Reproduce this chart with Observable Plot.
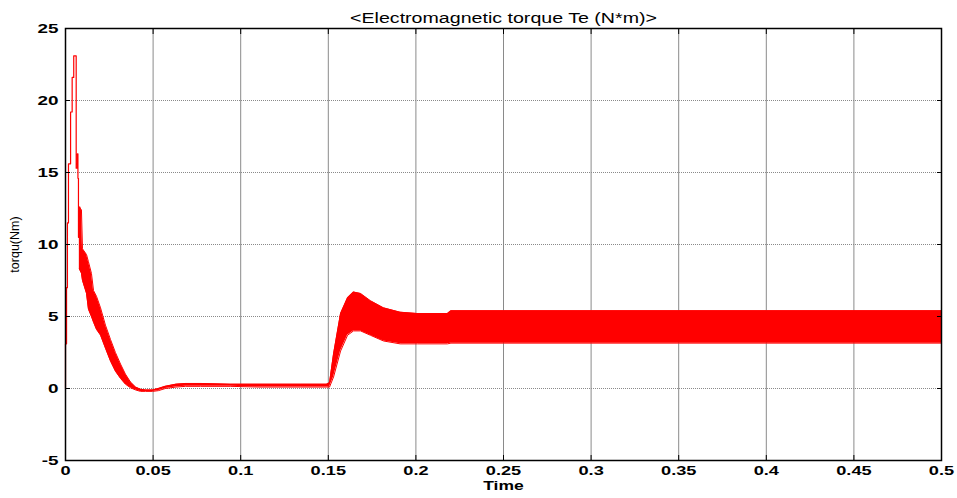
<!DOCTYPE html>
<html>
<head>
<meta charset="utf-8">
<script src="https://cdn.jsdelivr.net/npm/d3@7"></script>
<script src="https://cdn.jsdelivr.net/npm/@observablehq/plot@0.6"></script>
<style>
  html, body { margin: 0; padding: 0; background: #fff; }
  #chart svg { display: block; }
</style>
</head>
<body>
<div id="chart"></div>
<script>
const titleText = "<Electromagnetic torque Te (N*m)>";
const xLabel = "Time";
const yLabel = "torqu(Nm)";
const xTicks = [0, 0.05, 0.1, 0.15, 0.2, 0.25, 0.3, 0.35, 0.4, 0.45, 0.5];
const yTicks = [-5, 0, 5, 10, 15, 20, 25];

// start-up transient of Te, sampled steps (time in s, torque in N·m)
const startT  = [0, 0, 0.0006, 0.0011, 0.0017, 0.0029, 0.0038, 0.0047, 0.0061, 0.0068, 0.0071, 0.0074, 0.0079, 0.0082];
const startTe = [0, 3.1, 7.0, 11.5, 15.6, 19.2, 21.6, 23.1, 15.3, 16.3, 14.6, 10.5, 12.6, 12.4];

// ripple envelope of Te (upper / lower bound of the oscillation)
const bandT  = [0.0079, 0.0091, 0.0097, 0.0120, 0.0131, 0.0148, 0.0160, 0.0177, 0.0200, 0.0228, 0.0257, 0.0285, 0.0314, 0.0342, 0.0371, 0.0400, 0.0428, 0.0457, 0.0497, 0.0530, 0.0570, 0.0630, 0.0685, 0.0770, 0.0940, 0.1110, 0.1340, 0.1490, 0.1507, 0.1530, 0.1570, 0.1610, 0.1644, 0.1684, 0.1740, 0.1815, 0.1910, 0.2010, 0.2180, 0.2200, 0.2500, 0.3000, 0.3500, 0.4000, 0.4500, 0.5000];
const bandHi = [12.6, 12.4, 9.7, 9.3, 8.8, 8.0, 6.8, 6.4, 5.6, 4.4, 3.4, 2.5, 1.7, 1.0, 0.45, 0.1, -0.05, -0.1, -0.1, 0.0, 0.15, 0.3, 0.35, 0.35, 0.3, 0.3, 0.3, 0.3, 0.4, 2.4, 5.2, 6.3, 6.7, 6.6, 6.1, 5.6, 5.3, 5.2, 5.2, 5.4, 5.4, 5.4, 5.4, 5.4, 5.4, 5.4];
const bandLo = [8.3, 8.0, 7.5, 6.6, 5.5, 5.0, 4.6, 4.1, 3.7, 2.8, 1.9, 1.2, 0.7, 0.3, 0.05, -0.1, -0.2, -0.2, -0.2, -0.15, 0.0, 0.1, 0.15, 0.15, 0.15, 0.1, 0.1, 0.1, 0.1, 0.8, 2.6, 3.7, 4.0, 4.0, 3.7, 3.3, 3.1, 3.1, 3.1, 3.15, 3.15, 3.15, 3.15, 3.15, 3.15, 3.15];

const startup = startT.map((t, i) => ({t, te: startTe[i]}));
const band = bandT.map((t, i) => ({t, hi: bandHi[i], lo: bandLo[i]}));

const red = "#ff0000";
const font = "'Liberation Sans', Arial, sans-serif";

const chart = Plot.plot({
  width: 957,
  height: 498,
  marginLeft: 65,
  marginRight: 16,
  marginTop: 28,
  marginBottom: 38,
  style: {fontFamily: font, background: "#fff", color: "#000"},
  x: {domain: [0, 0.5]},
  y: {domain: [-5, 25]},
  marks: [
    Plot.gridX(xTicks, {stroke: "#8a8a8a", strokeOpacity: 1, strokeWidth: 1}),
    Plot.gridY(yTicks, {stroke: "#8a8a8a", strokeOpacity: 1, strokeDasharray: "1,1"}),
    Plot.areaY(band, {x: "t", y1: "lo", y2: "hi", fill: red}),
    Plot.line(band, {x: "t", y: "hi", stroke: red, strokeWidth: 1}),
    Plot.line(band, {x: "t", y: "lo", stroke: red, strokeWidth: 1}),
    Plot.line(startup, {x: "t", y: "te", stroke: red, strokeWidth: 1.2, curve: "step-after"}),
    Plot.frame({stroke: "#000", strokeWidth: 1.5}),
    Plot.axisX(xTicks, {anchor: "bottom", tickSize: -5, tickPadding: 10, tickFormat: d => String(d),
      fontWeight: "bold", fontSize: 13, label: null}),
    Plot.axisX(xTicks, {anchor: "top", tickSize: -5, tickFormat: () => "", label: null}),
    Plot.axisY(yTicks, {anchor: "left", tickSize: -5, tickPadding: 12, tickFormat: d => String(d),
      fontWeight: "bold", fontSize: 13.5, label: null}),
    Plot.axisY(yTicks, {anchor: "right", tickSize: -5, tickFormat: () => "", label: null}),
    Plot.text([titleText], {frameAnchor: "top", dy: -15, fontSize: 14, fill: "#000"}),
    Plot.text([xLabel], {frameAnchor: "bottom", dy: 29, fontSize: 12.5, fontWeight: "bold", fill: "#000"}),
    Plot.text([yLabel], {frameAnchor: "left", dx: -51, rotate: -90, textAnchor: "middle", fontSize: 12.5, fill: "#000"})
  ]
});

document.getElementById("chart").appendChild(chart);

// the figure text is rendered wide: stretch horizontal labels
const stretch = 1.4;
d3.select(chart).selectAll("text").each(function () {
  const tr = this.getAttribute("transform") || "";
  if (tr.includes("rotate")) return;
  if (!this.textContent) return;
  const w = this.getComputedTextLength();
  if (w > 0) {
    this.setAttribute("textLength", (w * stretch).toFixed(1));
    this.setAttribute("lengthAdjust", "spacingAndGlyphs");
  }
});
</script>
</body>
</html>
